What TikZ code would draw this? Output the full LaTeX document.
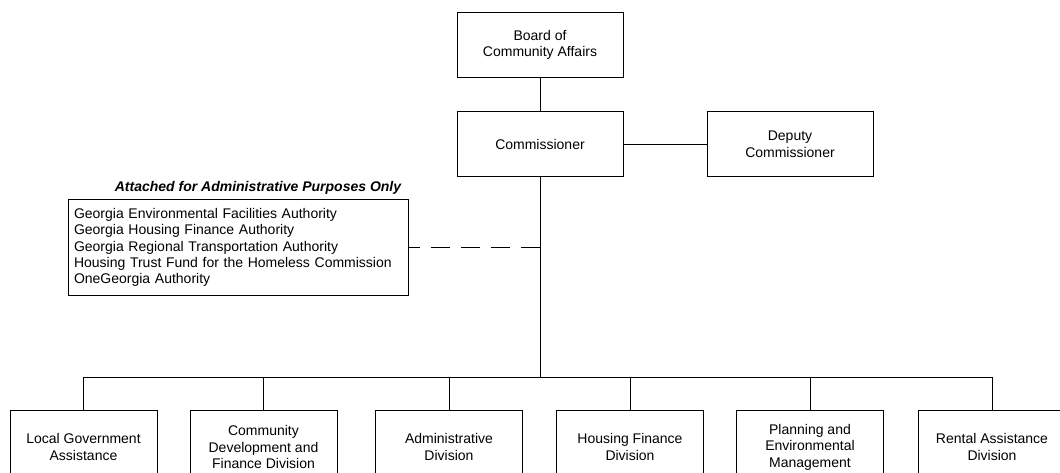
\documentclass[tikz,border=0pt]{standalone}
\usepackage{fontspec}
\setmainfont{Liberation Sans}
\usetikzlibrary{positioning}
\tikzset{
    org-box/.style = {draw=black, fill=white, line width=1pt, rectangle, minimum width=166pt, minimum height=65pt, align=center, font=\fontsize{14}{16.5}\selectfont},
    div-box/.style = {org-box, minimum width=147pt, minimum height=74pt},
    list-box/.style = {draw=black, fill=white, line width=1pt, rectangle, inner sep=6pt, text width=328pt, minimum height=95pt, align=left, font=\fontsize{14}{16.3}\selectfont},
    list-title/.style = {font=\fontsize{14}{16.5}\selectfont\bfseries\itshape},
    link/.style = {line width=1pt},
}

\begin{document}
\begin{tikzpicture}[x=1pt, y=-1pt]
\useasboundingbox (0,0) rectangle (1060,473);
\node [org-box] (board) at (540,45) {Board of\\Community Affairs};
\node [org-box] (comm) at (540,144.5) {Commissioner};
\node [org-box, right=83pt of comm] (deputy) {Deputy\\Commissioner};
\node [list-box] (attached) at (238,247.5) {Georgia Environmental Facilities Authority\\
    Georgia Housing Finance Authority\\
    Georgia Regional Transportation Authority\\
    Housing Trust Fund for the Homeless Commission\\
    OneGeorgia Authority};
\node [list-title] (attached-title) at (258,188) {Attached for Administrative Purposes Only};
% divisions
\node [div-box] (local) at (83.5,447) {Local Government\\Assistance};
\node [div-box] (commdev) at (263.5,447) {Community\\Development and\\Finance Division};
\node [div-box] (admin) at (449,447) {Administrative\\Division};
\node [div-box] (housing) at (630,447) {Housing Finance\\Division};
\node [div-box] (planning) at (810,447) {Planning and\\Environmental\\Management};
\node [div-box] (rental) at (992,447) {Rental Assistance\\Division};
\coordinate (bus) at (540,377);
\draw [link] (board) -- (comm);
\draw [link] (comm) -- (deputy);
\draw [link] (comm) -- (bus);
\draw [link, dash pattern=on 19pt off 11pt] (attached.east -| comm.south) -- (attached.east);
\foreach \d in {local,commdev,admin,housing,planning,rental}
    \draw [link] (\d.north) |- (bus);
\end{tikzpicture}
\end{document}
